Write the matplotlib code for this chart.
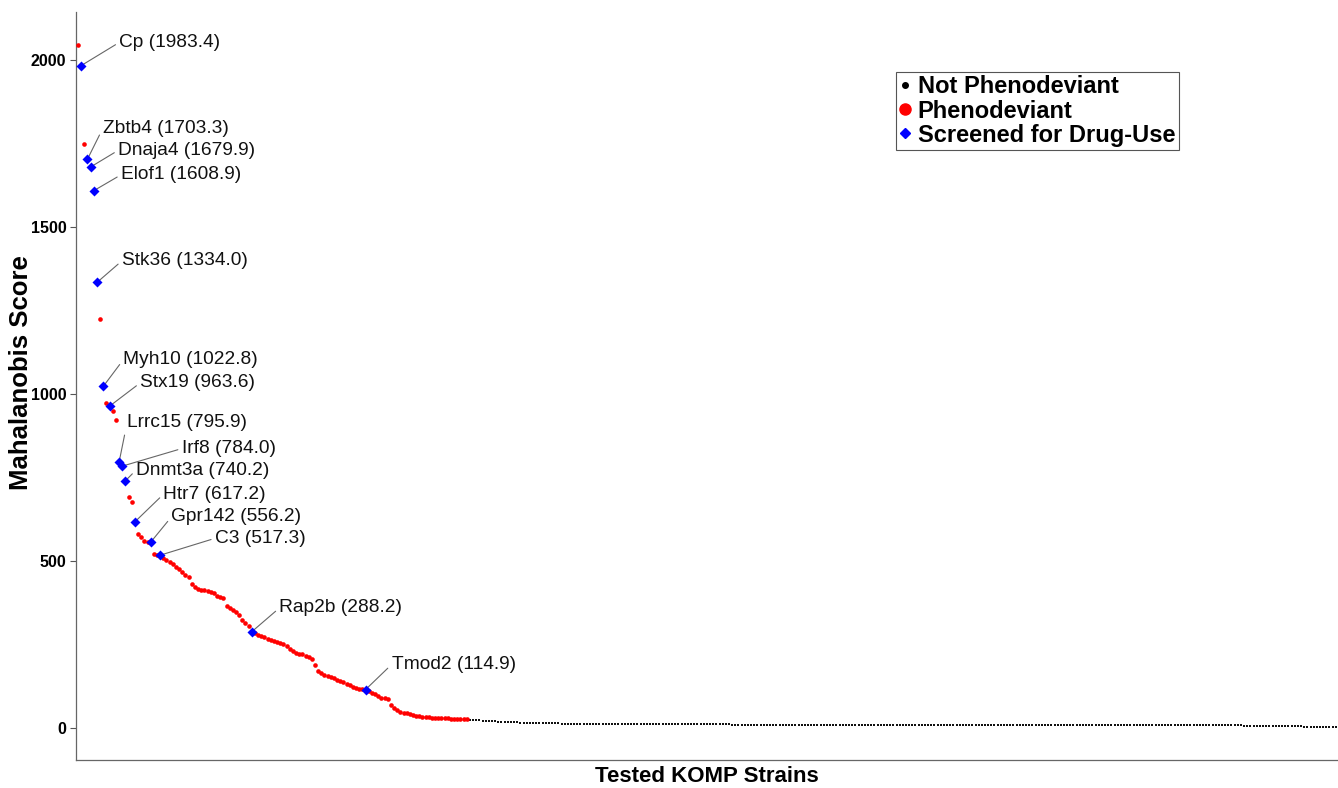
import matplotlib.pyplot as plt
from matplotlib.lines import Line2D
import numpy as np

plt.rcParams['font.family'] = ['Liberation Sans', 'DejaVu Sans']

# Mahalanobis scores, sorted from highest to lowest
pheno_scores = [
    2045, 1983.4, 1748, 1703.3, 1679.9, 1608.9, 1334.0, 1226, 1022.8, 972,
    963.6, 950, 922, 795.9, 784.0, 740.2, 691, 678, 617.2, 581,
    571, 561, 558, 556.2, 521, 519, 517.3, 509, 503, 497,
    491, 483, 476, 468, 459, 451, 431, 421, 417, 413,
    412, 410, 407, 403, 396, 391, 389, 365, 359, 353,
    346, 339, 323, 313, 306, 288.2, 283.5, 279.4, 275.4, 271.4,
    267.4, 263.5, 259.5, 256.5, 254.5, 252.5, 246.5, 237.5, 230.5, 224.5,
    222.5, 220.5, 216.5, 211.5, 205.5, 188.6, 171.6, 163.7, 159.7, 156.6,
    153.6, 149.7, 143.7, 139.7, 136.7, 132.7, 127.7, 123.7, 120.7, 117.7,
    115.9, 114.9, 109.8, 105.8, 100.8, 95.8, 90.8, 88.8, 86.8, 67.9,
    59.9, 53.9, 48.9, 45.9, 43.9, 41.9, 38.9, 36.9, 34.9, 33.9,
    32.9, 31.9, 30.9, 30.5, 29.9, 29.5, 29.0, 28.6, 28.0, 27.6,
    27.0, 26.6, 26.0, 25.6,
]
normal_scores = [
    24.5, 24.0, 23.5, 23.0, 21.5, 21.0, 20.7, 20.4, 20.1,
    18.6, 18.3, 18.0, 17.8, 17.6, 17.4, 17.2,
    15.9, 15.7, 15.5, 15.4, 15.3, 15.2, 15.0, 14.9, 14.8,
    13.6, 13.5, 13.5, 13.4, 13.3, 13.3, 13.2, 13.1, 13.1, 13.0, 12.9, 12.9, 12.8, 12.8,
    12.2, 12.2, 12.1, 12.1, 12.1, 12.0, 12.0, 12.0, 11.9, 11.9, 11.9, 11.8, 11.8, 11.8,
    11.7, 11.7, 11.7, 11.6, 11.6, 11.6, 11.5, 11.5, 11.5, 11.4, 11.4, 11.4, 11.3, 11.3, 11.3,
    10.6, 10.6, 10.6, 10.6, 10.5, 10.5, 10.5, 10.5, 10.5, 10.4, 10.4, 10.4, 10.4, 10.4, 10.4,
    10.3, 10.3, 10.3, 10.3, 10.3, 10.3, 10.2, 10.2, 10.2, 10.2, 10.2, 10.2,
    10.1, 10.1, 10.1, 10.1, 10.1, 10.0, 10.0, 10.0, 10.0, 10.0,
    9.8, 9.8, 9.8, 9.8, 9.8, 9.8, 9.8, 9.8, 9.8, 9.8, 9.8,
    9.7, 9.7, 9.7, 9.7, 9.7, 9.7, 9.7, 9.7, 9.7, 9.7, 9.7,
    9.6, 9.6, 9.6, 9.6, 9.6, 9.6, 9.6, 9.6, 9.6, 9.6, 9.6,
    9.5, 9.5, 9.5, 9.5, 9.5, 9.5, 9.5, 9.5, 9.5, 9.5, 9.5,
    9.4, 9.4, 9.4, 9.4, 9.4, 9.4, 9.4, 9.4, 9.4, 9.4, 9.4,
    9.3, 9.3, 9.3, 9.3, 9.3, 9.3, 9.3, 9.3, 9.3, 9.3, 9.3,
    9.2, 9.2, 9.2, 9.2, 9.2, 9.2, 9.2, 9.2, 9.2, 9.2, 9.2,
    9.1, 9.1, 9.1, 9.1, 9.1, 9.1, 9.1, 9.1, 9.1, 9.1, 9.1,
    9.0, 9.0, 9.0, 9.0, 9.0, 9.0, 9.0, 9.0, 9.0, 9.0, 9.0,
    8.9, 8.9, 8.9, 8.9, 8.9, 8.9, 8.9, 8.9, 8.9, 8.9, 8.9,
    8.8, 8.8, 8.8, 8.8, 8.8, 8.8, 8.8, 8.8, 8.8, 8.8,
    8.7, 8.7, 8.7, 8.7, 8.7, 8.7, 8.7, 8.7, 8.7, 8.7,
    8.6, 8.6, 8.6, 8.6, 8.6, 8.6, 8.6, 8.6, 8.6, 8.6,
    4.8, 4.8, 4.8, 4.7, 4.7, 4.7, 4.7, 4.6, 4.6, 4.6, 4.6, 4.5, 4.5, 4.5, 4.5,
    4.4, 4.4, 4.4, 4.4, 4.3, 4.3, 4.3, 4.3, 4.2, 4.2, 4.2, 4.1, 4.1, 4.1,
    2.0,
]

screened_genes = ['Cp', 'Zbtb4', 'Dnaja4', 'Elof1', 'Stk36', 'Myh10', 'Stx19', 'Lrrc15',
                  'Irf8', 'Dnmt3a', 'Htr7', 'Gpr142', 'C3', 'Rap2b', 'Tmod2']
screened_scores = [1983.4, 1703.3, 1679.9, 1608.9, 1334.0, 1022.8, 963.6, 795.9,
                   784.0, 740.2, 617.2, 556.2, 517.3, 288.2, 114.9]

# where each label sits relative to its strain (points)
label_dx = [27.6, 11.1, 19.9, 19.7, 18.0, 14.4, 22.1, 5.8, 43.0, 7.7, 20.6, 14.9, 39.6, 19.9, 18.7]
label_dy = [16.8, 22.3, 12.0, 11.5, 15.6, 19.2, 16.8, 28.6, 12.7, 7.7, 19.9, 18.2, 12.2, 17.1, 18.0]

n_pheno = len(pheno_scores)
scores = pheno_scores + normal_scores
rank = np.arange(1, len(scores) + 1)
screened_rank = [scores.index(s) + 1 for s in screened_scores]

fig = plt.figure(figsize=(13.38, 7.88), dpi=100)
ax = fig.add_axes([76/1338, 28/788, 1262/1338, 748/788])

ax.scatter(rank[n_pheno:], normal_scores, s=2.2, marker='s', color='#111111', linewidths=0, zorder=2)
ax.scatter(rank[:n_pheno], pheno_scores, s=11, marker='o', color='#ff0000', linewidths=0, zorder=3)
ax.scatter(screened_rank, screened_scores, s=26, marker='D', color='#0000ff', linewidths=0, zorder=4)

for g, r, s, dx, dy in zip(screened_genes, screened_rank, screened_scores, label_dx, label_dy):
    ax.annotate('%s (%.1f)' % (g, s), xy=(r, s), xytext=(dx, dy), textcoords='offset points',
                ha='left', va='center', fontsize=13.8, color='#111111',
                arrowprops=dict(arrowstyle='-', color='#666666', lw=0.8,
                                relpos=(0, 0.5), shrinkA=1, shrinkB=2))

ax.set_xlim(0.37, 399.7)
ax.set_ylim(-96, 2144)
ax.set_xticks([])
ax.set_yticks([0, 500, 1000, 1500, 2000])
ax.tick_params(axis='y', length=4, width=0.8, color='#555555', pad=3, labelsize=11.5)
for lbl in ax.get_yticklabels():
    lbl.set_fontweight('bold')
for side in ['top', 'right']:
    ax.spines[side].set_visible(False)
for side in ['left', 'bottom']:
    ax.spines[side].set_color('#666666')
    ax.spines[side].set_linewidth(0.9)

fig.text(0.0155, 0.527, 'Mahalanobis Score', rotation=90, ha='center', va='center',
         fontsize=18.5, fontweight='bold')
fig.text(0.528, 0.014, 'Tested KOMP Strains', ha='center', va='center',
         fontsize=16, fontweight='bold')

handles = [Line2D([], [], marker='o', linestyle='', color='black', markersize=4),
           Line2D([], [], marker='o', linestyle='', color='#ff0000', markersize=8),
           Line2D([], [], marker='D', linestyle='', color='#0000ff', markersize=5)]
leg = ax.legend(handles, ['Not Phenodeviant', 'Phenodeviant', 'Screened for Drug-Use'],
                loc='upper left', bbox_to_anchor=(0.650, 0.920), borderaxespad=0,
                prop={'weight': 'bold', 'size': 17}, frameon=True, fancybox=False,
                framealpha=1, edgecolor='#555555', borderpad=0.15, labelspacing=0.05,
                handlelength=0.45, handletextpad=0.3)
leg.get_frame().set_linewidth(0.8)

plt.savefig('out.png', dpi=100)
